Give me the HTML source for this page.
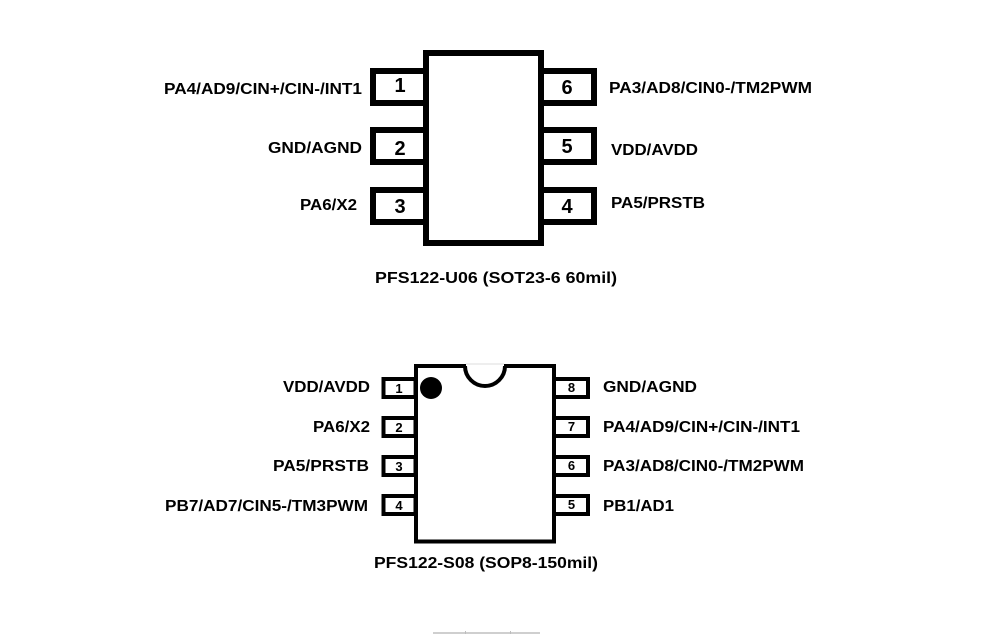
<!DOCTYPE html>
<html>
<head>
<meta charset="utf-8">
<style>
  html, body { margin: 0; padding: 0; background: #ffffff; }
  body { width: 983px; height: 635px; overflow: hidden; }
  svg { display: block; }
  text { font-family: "Liberation Sans", Arial, sans-serif; font-weight: bold; fill: #000; }
</style>
</head>
<body>
<svg width="983" height="635" viewBox="0 0 983 635" xmlns="http://www.w3.org/2000/svg">
  <rect x="0" y="0" width="983" height="635" fill="#ffffff"/>

  <!-- ===== Top chip: SOT23-6 ===== -->
  <g fill="#ffffff" stroke="#000" stroke-width="6">
    <!-- left pins -->
    <rect x="373" y="71" width="53" height="32"/>
    <rect x="373" y="130" width="53" height="32"/>
    <rect x="373" y="190" width="53" height="32"/>
    <!-- right pins -->
    <rect x="541" y="71" width="53" height="32"/>
    <rect x="541" y="130" width="53" height="32"/>
    <rect x="541" y="190" width="53" height="32"/>
    <!-- body -->
    <rect x="426" y="53" width="115" height="190"/>
  </g>

  <!-- pin numbers top -->
  <g font-size="20" text-anchor="middle">
    <text x="400" y="92">1</text>
    <text x="400" y="155">2</text>
    <text x="400" y="213">3</text>
    <text x="567" y="94">6</text>
    <text x="567" y="153">5</text>
    <text x="567" y="213">4</text>
  </g>

  <!-- labels top -->
  <g font-size="16">
    <text x="164" y="94" textLength="198" lengthAdjust="spacingAndGlyphs">PA4/AD9/CIN+/CIN-/INT1</text>
    <text x="268" y="153" textLength="94" lengthAdjust="spacingAndGlyphs">GND/AGND</text>
    <text x="300" y="210" textLength="57" lengthAdjust="spacingAndGlyphs">PA6/X2</text>
    <text x="609" y="93" textLength="203" lengthAdjust="spacingAndGlyphs">PA3/AD8/CIN0-/TM2PWM</text>
    <text x="611" y="155" textLength="87" lengthAdjust="spacingAndGlyphs">VDD/AVDD</text>
    <text x="611" y="208" textLength="94" lengthAdjust="spacingAndGlyphs">PA5/PRSTB</text>
    <text x="375" y="283" textLength="242" lengthAdjust="spacingAndGlyphs">PFS122-U06 (SOT23-6 60mil)</text>
  </g>

  <!-- ===== Bottom chip: SOP8 ===== -->
  <g fill="#ffffff" stroke="#000" stroke-width="4">
    <!-- left pins -->
    <rect x="383.5" y="379" width="32" height="18"/>
    <rect x="383.5" y="418" width="32" height="18"/>
    <rect x="383.5" y="457" width="32" height="18"/>
    <rect x="383.5" y="496" width="32" height="18"/>
    <!-- right pins -->
    <rect x="554" y="379" width="34" height="18"/>
    <rect x="554" y="418" width="34" height="18"/>
    <rect x="554" y="457" width="34" height="18"/>
    <rect x="554" y="496" width="34" height="18"/>
    <!-- body -->
    <rect x="416" y="366" width="138" height="175.5"/>
  </g>
  <!-- notch -->
  <rect x="466" y="362" width="38" height="7" fill="#ffffff"/>
  <line x1="466" y1="364" x2="504" y2="364" stroke="#dcdcdc" stroke-width="1"/>
  <path d="M465 366 A20 20 0 0 0 505 366" fill="none" stroke="#000" stroke-width="4"/>
  <!-- pin 1 dot -->
  <circle cx="431" cy="388" r="11" fill="#000"/>

  <!-- pin numbers bottom -->
  <g font-size="13" text-anchor="middle" fill="#1a1a1a">
    <text x="399" y="393">1</text>
    <text x="399" y="432">2</text>
    <text x="399" y="471">3</text>
    <text x="399" y="510">4</text>
    <text x="571.5" y="392">8</text>
    <text x="571.5" y="431">7</text>
    <text x="571.5" y="470">6</text>
    <text x="571.5" y="509">5</text>
  </g>

  <!-- labels bottom -->
  <g font-size="16">
    <text x="283" y="392" textLength="87" lengthAdjust="spacingAndGlyphs">VDD/AVDD</text>
    <text x="313" y="432" textLength="57" lengthAdjust="spacingAndGlyphs">PA6/X2</text>
    <text x="273" y="471" textLength="96" lengthAdjust="spacingAndGlyphs">PA5/PRSTB</text>
    <text x="165" y="511" textLength="203" lengthAdjust="spacingAndGlyphs">PB7/AD7/CIN5-/TM3PWM</text>
    <text x="603" y="392" textLength="94" lengthAdjust="spacingAndGlyphs">GND/AGND</text>
    <text x="603" y="432" textLength="197" lengthAdjust="spacingAndGlyphs">PA4/AD9/CIN+/CIN-/INT1</text>
    <text x="603" y="471" textLength="201" lengthAdjust="spacingAndGlyphs">PA3/AD8/CIN0-/TM2PWM</text>
    <text x="603" y="511" textLength="71" lengthAdjust="spacingAndGlyphs">PB1/AD1</text>
    <text x="374" y="568" textLength="224" lengthAdjust="spacingAndGlyphs">PFS122-S08 (SOP8-150mil)</text>
  </g>

  <!-- faint bottom line -->
  <rect x="433" y="632" width="107" height="2" fill="#cfcfcf"/>
  <rect x="465" y="631" width="1" height="3" fill="#bdbdbd"/>
  <rect x="510" y="631" width="1" height="3" fill="#bdbdbd"/>
</svg>
</body>
</html>
